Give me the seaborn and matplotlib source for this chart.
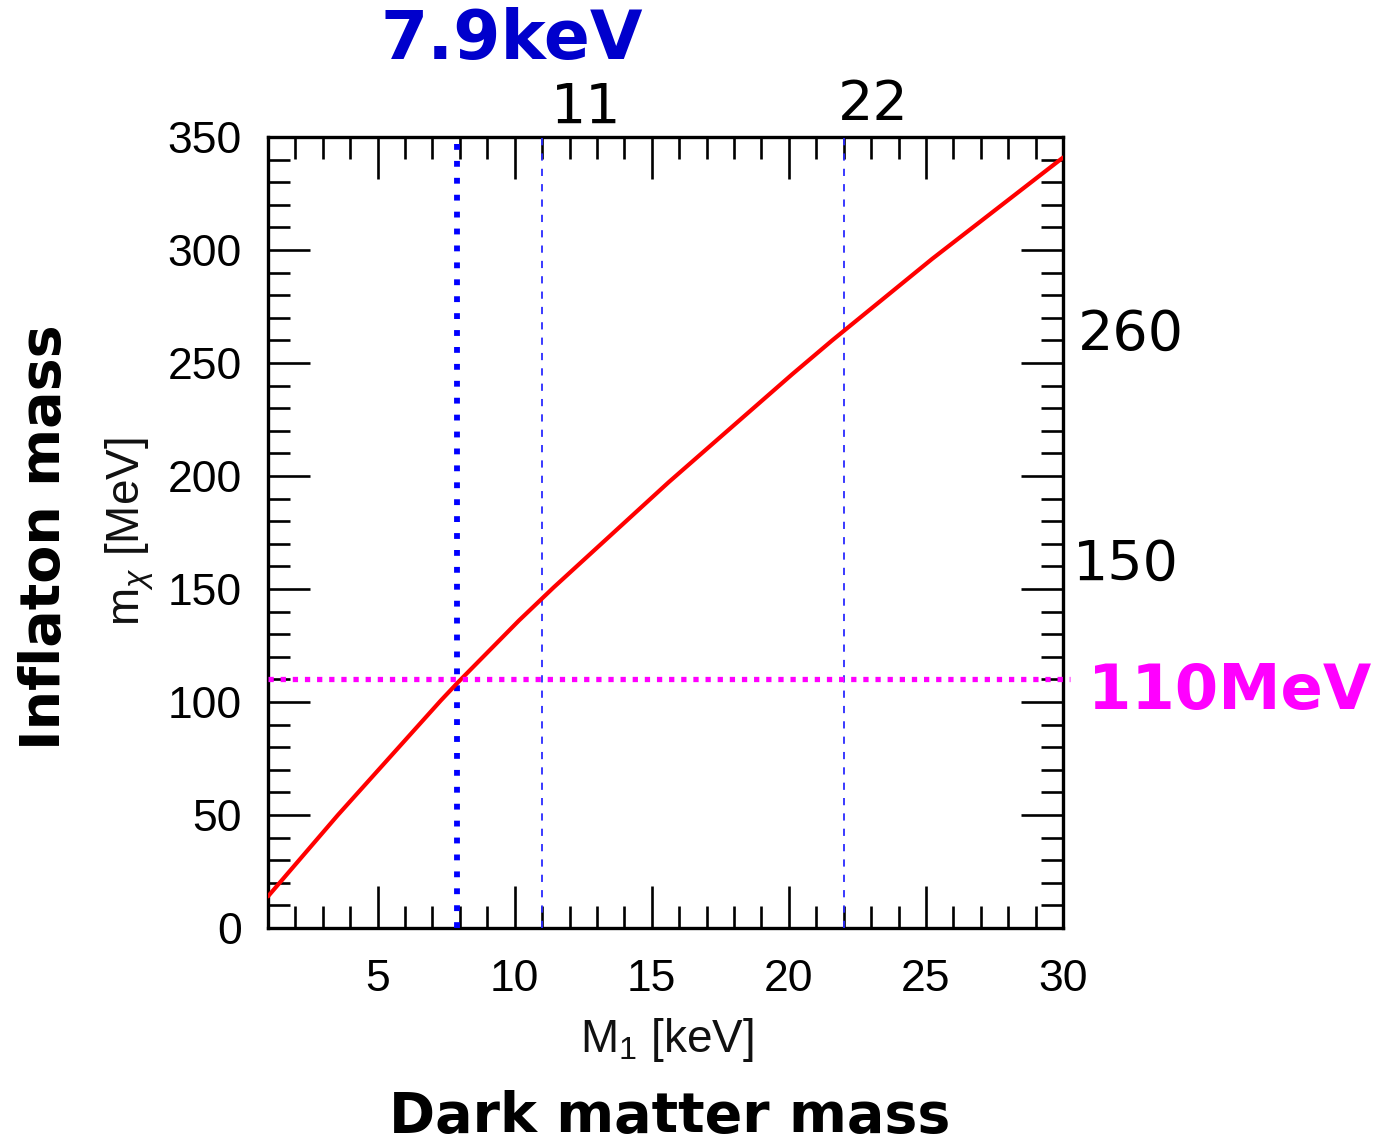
import numpy as np
import pandas as pd
import matplotlib
matplotlib.use("Agg")
import matplotlib.pyplot as plt
from matplotlib.ticker import MultipleLocator
import seaborn as sns

# Inflaton mass versus dark matter mass
dm_mass_keV = [1, 3.55, 7.3, 7.93, 10.15, 11.42, 15.62, 20.12, 21.58, 25.23, 30]
inflaton_mass_MeV = [14, 50.0, 100.6, 108.7, 136.0, 150.7, 197.3, 245.0, 260.0, 296.1, 340.9]

# Marked benchmark values
benchmark_dm_keV = 7.9
benchmark_inflaton_MeV = 110
guide_dm_keV = [11, 22]
guide_dm_labels = ["11", "22"]
side_inflaton_labels = ["260", "150"]

x_ticks = [5, 10, 15, 20, 25, 30]
y_ticks = [0, 50, 100, 150, 200, 250, 300, 350]

sns.set_theme(style="ticks")
plt.rcParams["font.family"] = ["Liberation Sans", "DejaVu Sans"]
plt.rcParams["mathtext.fontset"] = "custom"
plt.rcParams["mathtext.rm"] = "Liberation Sans"
plt.rcParams["mathtext.it"] = "Liberation Sans:italic"

W, H = 1380, 1145
fig = plt.figure(figsize=(W / 100, H / 100), dpi=100)
fig.patch.set_facecolor("white")
ax = fig.add_axes([268 / W, 1 - 928 / H, (1063 - 268) / W, (928 - 137) / H])
ax.set_facecolor("white")

df = pd.DataFrame({"M1": dm_mass_keV, "mchi": inflaton_mass_MeV})
sns.lineplot(data=df, x="M1", y="mchi", ax=ax, color="#ff0000", linewidth=3.0,
             zorder=4)

# benchmark guides
ax.axvline(benchmark_dm_keV, color="#0000ff", linewidth=4.2,
           linestyle=(0, (1, 1.9)), zorder=3)
for xv in guide_dm_keV:
    ax.axvline(xv, color="#2a2aff", linewidth=1.3,
               linestyle=(0, (4, 4.5)), zorder=3)
ax.plot([1, 30.25], [benchmark_inflaton_MeV] * 2, color="#ff00ff",
        linewidth=3.8, linestyle=(0, (1.0, 1.3)), clip_on=False, zorder=5)

ax.set_xlim(1, 30)
ax.set_ylim(0, 350)
ax.set_xticks(x_ticks)
ax.set_yticks(y_ticks)
ax.xaxis.set_minor_locator(MultipleLocator(1))
ax.yaxis.set_minor_locator(MultipleLocator(10))
ax.tick_params(which="both", direction="in", top=True, right=True,
               color="black", width=1.9)
ax.tick_params(which="major", length=30)
ax.tick_params(which="minor", length=16)
ax.tick_params(axis="y", which="major", labelsize=32, pad=19, labelcolor="black")
ax.tick_params(axis="x", which="major", labelsize=32, pad=22, labelcolor="black")
for lbl in ax.get_xticklabels():
    lbl.set_x(lbl.get_position()[0])
for s in ax.spines.values():
    s.set_visible(True)
    s.set_linewidth(2.4)
    s.set_color("black")

ax.set_xlabel(r"M$_1$ [keV]", fontsize=33, color="#111111")
ax.set_ylabel(r"m$_\chi$ [MeV]", fontsize=33, color="#111111")
ax.xaxis.set_label_coords((667 - 268) / 795, (928 - 1040) / 791)
ax.xaxis.label.set_verticalalignment("center")
ax.yaxis.set_label_coords((130 - 268) / 795, (928 - 532) / 791)
ax.yaxis.label.set_verticalalignment("center")


def ftext(px, py, s, **kw):
    fig.text(px / W, 1 - py / H, s, ha="center", va="center",
             family=["DejaVu Sans"], **kw)


ftext(512, 40, f"{benchmark_dm_keV}keV", fontsize=49, fontweight="bold",
      color="#0000cc")
ftext(586, 108, guide_dm_labels[0], fontsize=40, color="black")
ftext(873, 105, guide_dm_labels[1], fontsize=40, color="black")
ftext(1131, 335, side_inflaton_labels[0], fontsize=40, color="black")
ftext(1126, 565, side_inflaton_labels[1], fontsize=40, color="black")
ftext(1230, 692, f"{benchmark_inflaton_MeV}MeV", fontsize=45,
      fontweight="bold", color="#ff00ff")
ftext(45, 537, "Inflaton mass", fontsize=40, fontweight="bold",
      color="black", rotation=90)
ftext(670, 1117, "Dark matter mass", fontsize=40, fontweight="bold",
      color="black")

fig.savefig("out.png", dpi=100, facecolor="white")
